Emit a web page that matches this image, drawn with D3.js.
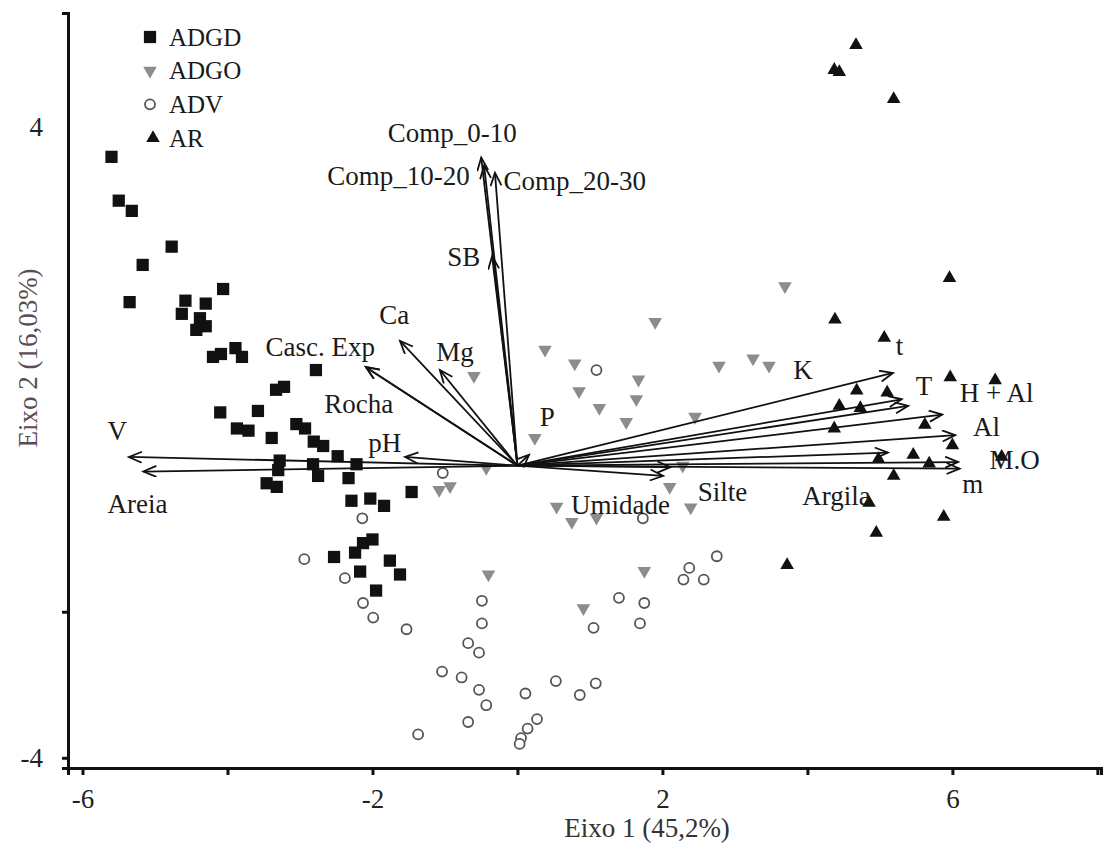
<!DOCTYPE html>
<html>
<head>
<meta charset="utf-8">
<script src="https://cdn.jsdelivr.net/npm/d3@7"></script>
<style>
  body { margin: 0; background: #fff; }
  text { font-family: "Liberation Serif", "Times New Roman", serif; }
</style>
</head>
<body>
<div id="chart"></div>
<script>

// group scores [eixo1, eixo2]
var adgd = [[-5.60,4.23],[-5.50,3.63],[-5.32,3.49],[-4.77,3.00],[-5.17,2.75],[-5.35,2.24],[-4.06,2.42],
    [-4.58,2.26],[-4.30,2.22],[-4.63,2.08],[-4.38,2.02],[-4.43,1.86],[-4.30,1.91],[-4.20,1.49],[-4.09,1.53],
    [-3.89,1.61],[-3.80,1.49],[-2.78,1.31],[-3.33,1.04],[-3.22,1.08],[-4.10,0.73],[-3.58,0.75],[-3.87,0.51],
    [-3.71,0.48],[-3.39,0.38],[-3.05,0.57],[-2.93,0.51],[-2.81,0.33],[-2.68,0.27],[-2.48,0.13],[-2.22,0.02],
    [-3.28,0.07],[-3.30,-0.06],[-2.82,0.02],[-2.75,-0.14],[-3.46,-0.24],[-3.32,-0.29],[-2.33,-0.17],[-1.46,-0.36],
    [-2.29,-0.48],[-2.03,-0.45],[-1.84,-0.55],[-2.00,-1.01],[-2.13,-1.06],[-2.24,-1.19],[-2.53,-1.25],
    [-1.76,-1.30],[-2.17,-1.45],[-1.62,-1.49],[-1.95,-1.71]];

var adgo = [[3.69,2.46],[1.90,1.97],[0.38,1.59],[0.79,1.40],[-0.60,1.23],[1.67,1.18],[2.78,1.37],[3.25,1.47],
    [3.47,1.37],[0.85,1.02],[1.64,0.91],[1.13,0.79],[1.50,0.60],[2.45,0.67],[0.24,0.38],[-0.43,-0.03],
    [2.28,0.00],[-1.08,-0.33],[-0.93,-0.28],[2.10,-0.29],[0.54,-0.56],[0.75,-0.77],[1.09,-0.71],[2.39,-0.57],
    [-0.40,-1.49],[0.91,-1.95],[1.75,-1.44]];

var adv = [[1.09,1.31],[-1.03,-0.10],[1.73,-0.72],[-2.14,-0.72],[-2.94,-1.28],[-2.38,-1.54],[-2.13,-1.88],
    [-1.99,-2.08],[-1.53,-2.24],[-0.49,-1.85],[-0.49,-2.16],[-0.68,-2.43],[-0.53,-2.56],[-1.04,-2.82],
    [-0.77,-2.90],[-0.53,-3.07],[-0.43,-3.28],[-0.68,-3.51],[-1.37,-3.68],[0.11,-3.12],[0.27,-3.47],
    [0.14,-3.60],[0.05,-3.73],[0.03,-3.81],[0.53,-2.95],[0.86,-3.14],[1.08,-2.98],[1.05,-2.22],[1.40,-1.81],
    [1.75,-1.88],[1.69,-2.16],[2.37,-1.40],[2.29,-1.56],[2.57,-1.56],[2.75,-1.24]];

var ar = [[4.67,5.76],[4.37,5.42],[4.44,5.39],[5.19,5.02],[5.96,2.57],[4.38,2.00],[5.06,1.75],[5.97,1.21],
    [6.59,1.17],[4.68,1.03],[5.10,1.00],[4.44,0.82],[4.73,0.79],[4.37,0.51],[5.62,0.56],[6.00,0.28],
    [5.46,0.15],[5.68,0.03],[4.98,0.09],[5.19,-0.14],[4.85,-0.51],[5.88,-0.70],[4.95,-0.92],[3.72,-1.36],
    [6.68,0.12]];

// variable loadings (arrow tips) and where each name sits, in axis units
var varNames = ["Comp_0-10","Comp_10-20","Comp_20-30","SB","Ca","Rocha","Casc. Exp","Mg","P","pH","V","Areia",
    "Umidade","Silte","t","K","T","H + Al","Al","Argila","M.O","m"];
var varTips = [[-0.50,4.22],[-0.46,4.11],[-0.31,4.01],[-0.35,2.87],[-1.62,1.71],[-2.09,1.35],[-2.09,1.35],
    [-1.07,1.31],[0.16,0.15],[-1.55,0.12],[-5.36,0.12],[-5.16,-0.08],[2.01,-0.14],[2.11,-0.02],[5.18,1.27],
    [5.30,0.91],[5.39,0.82],[5.86,0.70],[6.04,0.42],[5.11,0.18],[6.08,0.05],[6.10,-0.04]];
var varLabels = [[-0.90,4.56],[-1.64,3.97],[0.79,3.90],[-0.74,2.86],[-1.70,2.07],[-2.19,0.85],[-2.72,1.63],
    [-0.86,1.56],[0.41,0.68],[-1.83,0.32],[-5.52,0.48],[-5.24,-0.52],[1.42,-0.53],[2.83,-0.36],[5.27,1.64],
    [3.94,1.32],[5.61,1.10],[6.61,1.00],[6.47,0.53],[4.40,-0.41],[6.86,0.08],[6.28,-0.25]];

var groups = ["ADGD","ADGO","ADV","AR"];
var xTicks = [-6,-4,-2,0,2,4,6,8];
var xLabelled = [-6,-2,2,6];
var yTicks = [-4,-2];
var yTopLabel = 4.64;   // the "4" of the source sits above its nominal place

var W = 1103, H = 849;
var fontSize = 27;

var svg = d3.select("#chart").append("svg")
    .attr("width", W)
    .attr("height", H);

// Scales
var x = d3.scaleLinear().domain([-6.2, 8.05]).range([68, 1101]);
var y = d3.scaleLinear().domain([-4.14, 6.2]).range([768, 13]);

svg.append("defs").append("marker")
    .attr("id", "head")
    .attr("markerUnits", "userSpaceOnUse")
    .attr("markerWidth", 18)
    .attr("markerHeight", 16)
    .attr("refX", 14)
    .attr("refY", 6)
    .attr("orient", "auto")
    .append("path")
    .attr("d", "M1,0.5 L14,6 L1,11.5")
    .style("fill", "none")
    .style("stroke", "#111")
    .style("stroke-width", 1.8);

//append axes
var xAxis = svg.append("g")
    .attr("transform", "translate(0," + y(-4.14) + ")")
    .call(d3.axisBottom(x).tickValues(xTicks).tickSize(7).tickPadding(14)
        .tickFormat(function (d) { return xLabelled.indexOf(d) >= 0 ? d3.format("d")(d).replace("−", "-") : ""; }));

var yAxis = svg.append("g")
    .attr("transform", "translate(" + x(-6.2) + ",0)")
    .call(d3.axisLeft(y).tickValues(yTicks).tickSize(6).tickPadding(19)
        .tickFormat(function (d) { return d == -4 ? "-4" : ""; }));

[xAxis, yAxis].forEach(function (a) {
    a.select(".domain").attr("stroke", "#111").attr("stroke-width", 3);
    a.selectAll(".tick line").attr("stroke", "#111").attr("stroke-width", 3);
    a.selectAll("text")
        .style("font-family", "Liberation Serif")
        .style("font-size", fontSize + "px")
        .attr("fill", "#222");
});

yAxis.append("text")
    .attr("x", -25)
    .attr("y", y(yTopLabel))
    .attr("dy", "0.35em")
    .attr("text-anchor", "end")
    .style("font-family", "Liberation Serif")
    .style("font-size", fontSize + "px")
    .attr("fill", "#222")
    .text("4");

svg.append("text")
    .attr("x", 647)
    .attr("y", 837)
    .attr("text-anchor", "middle")
    .style("font-size", fontSize + "px")
    .attr("fill", "#333")
    .text("Eixo 1 (45,2%)");

svg.append("text")
    .attr("transform", "translate(37,358) rotate(-90)")
    .attr("text-anchor", "middle")
    .style("font-size", fontSize + "px")
    .attr("fill", "#5b4b52")
    .text("Eixo 2 (16,03%)");

// point symbols
var symSquare = d3.symbol().type(d3.symbolSquare).size(150);
var symTri = d3.symbol().type(d3.symbolTriangle).size(80);

function drawGroup(data, kind) {
    var sel = svg.append("g").attr("class", "pts-" + kind)
        .selectAll("path, circle")
        .data(data)
        .enter();
    if (kind == "ADV") {
        sel.append("circle")
            .attr("cx", function (d) { return x(d[0]) })
            .attr("cy", function (d) { return y(d[1]) })
            .attr("r", 5)
            .style("fill", "white")
            .style("stroke", "#555")
            .style("stroke-width", 1.8);
    } else {
        sel.append("path")
            .attr("d", kind == "ADGD" ? symSquare : symTri)
            .attr("transform", function (d) {
                return "translate(" + x(d[0]) + "," + y(d[1]) + ")" + (kind == "ADGO" ? " rotate(180)" : "");
            })
            .style("fill", kind == "ADGO" ? "#8c8c8c" : "#111");
    }
}

drawGroup(adv, "ADV");
drawGroup(adgo, "ADGO");
drawGroup(adgd, "ADGD");
drawGroup(ar, "AR");

//vectors
var arrows = svg.append("g").attr("class", "vectors");
arrows.selectAll("line")
    .data(varTips)
    .enter()
    .append("line")
    .attr("x1", x(0))
    .attr("y1", y(0))
    .attr("x2", function (d) { return x(d[0]) })
    .attr("y2", function (d) { return y(d[1]) })
    .attr("stroke", function (d, i) { return varNames[i] == "Rocha" ? "#4a1e22" : "#111" })
    .attr("stroke-width", 1.8)
    .attr("marker-end", "url(#head)");

arrows.selectAll("text")
    .data(varLabels)
    .enter()
    .append("text")
    .attr("x", function (d) { return x(d[0]) })
    .attr("y", function (d) { return y(d[1]) })
    .attr("dy", "0.35em")
    .attr("text-anchor", "middle")
    .style("font-size", fontSize + "px")
    .attr("fill", "#1a1a1a")
    .text(function (d, i) { return varNames[i] });

// legend
var legend = svg.append("g").attr("class", "legend");
var legendY = d3.scalePoint().domain(groups).range([37, 138]);
groups.forEach(function (g) {
    var cy = legendY(g);
    if (g == "ADV") {
        legend.append("circle").attr("cx", 150).attr("cy", cy).attr("r", 5)
            .style("fill", "white").style("stroke", "#555").style("stroke-width", 1.8);
    } else {
        legend.append("path")
            .attr("d", g == "ADGD" ? symSquare : symTri)
            .attr("transform", "translate(" + (g == "AR" ? 153 : 150) + "," + cy + ")" + (g == "ADGO" ? " rotate(180)" : ""))
            .style("fill", g == "ADGO" ? "#8c8c8c" : "#111");
    }
    legend.append("text")
        .attr("x", 169)
        .attr("y", cy)
        .attr("dy", "0.35em")
        .style("font-size", "25px")
        .attr("fill", "#1a1a1a")
        .text(g);
});

</script>
</body>
</html>
